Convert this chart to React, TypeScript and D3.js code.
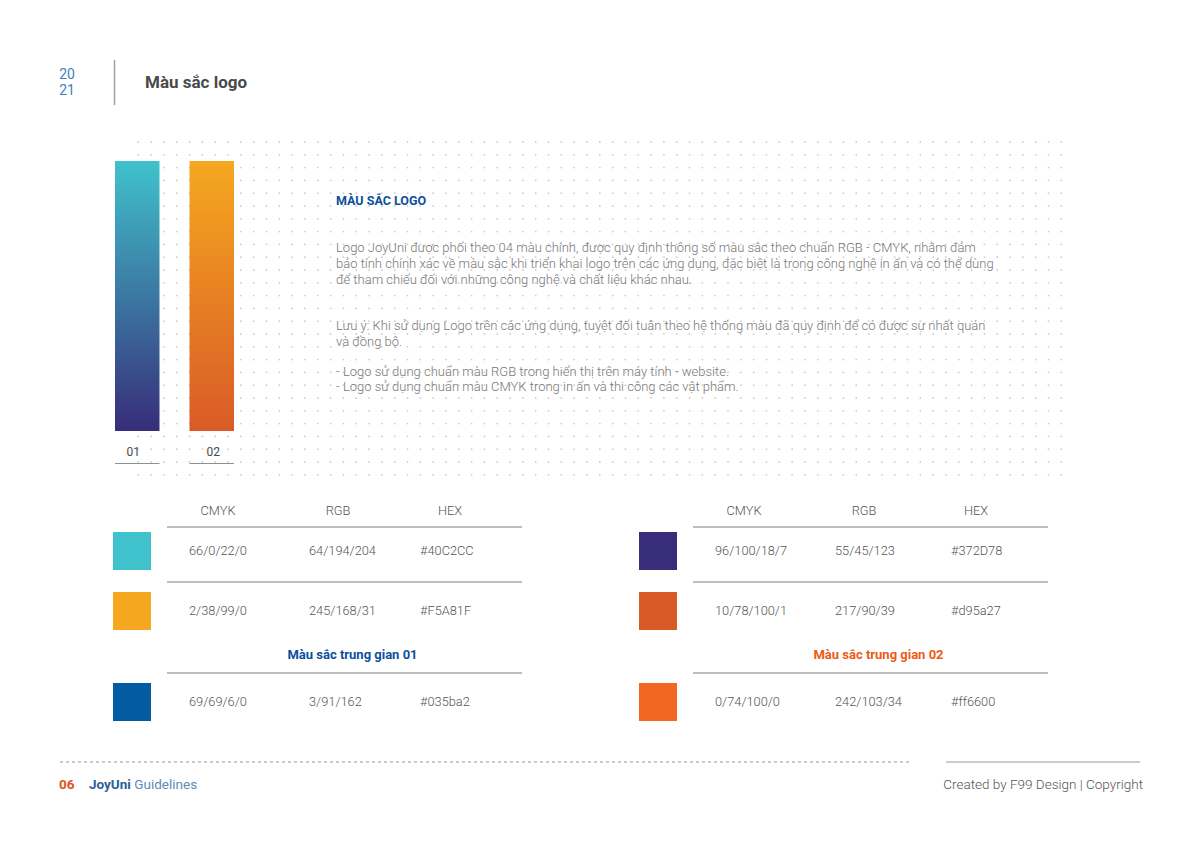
import React from "react";
import * as d3 from "d3";

const W = 1200;
const H = 849;

// ---- data ----
const barLabels = ["01", "02"];
const barTopColors = ["#40C2CC", "#F5A81F"];
const barBottomColors = ["#372D78", "#d95a27"];

const columnHeaders = ["CMYK", "RGB", "HEX"];

const leftCmyk = ["66/0/22/0", "2/38/99/0", "69/69/6/0"];
const leftRgb = ["64/194/204", "245/168/31", "3/91/162"];
const leftHex = ["#40C2CC", "#F5A81F", "#035ba2"];
const leftSwatch = ["#40C2CC", "#F5A81F", "#035ba2"];
const leftSubtitle = "Màu sắc trung gian 01";

const rightCmyk = ["96/100/18/7", "10/78/100/1", "0/74/100/0"];
const rightRgb = ["55/45/123", "217/90/39", "242/103/34"];
const rightHex = ["#372D78", "#d95a27", "#ff6600"];
const rightSwatch = ["#372D78", "#d95a27", "#f26722"];
const rightSubtitle = "Màu sắc trung gian 02";

const paragraphLines = [
  "Logo JoyUni được phối theo 04 màu chính, được quy định thông số màu sắc theo chuẩn RGB - CMYK, nhằm đảm",
  "bảo tính chính xác về màu sắc khi triển khai logo trên các ứng dụng, đặc biệt là trong công nghệ in ấn và có thể dùng",
  "để tham chiếu đối với những công nghệ và chất liệu khác nhau.",
];
const noteLines = [
  "Lưu ý: Khi sử dụng Logo trên các ứng dụng, tuyệt đối tuân theo hệ thống màu đã quy định để có được sự nhất quán",
  "và đồng bộ.",
];
const bulletLines = [
  "- Logo sử dụng chuẩn màu RGB trong hiển thị trên máy tính - website.",
  "- Logo sử dụng chuẩn màu CMYK trong in ấn và thi công các vật phẩm.",
];

const FONT = "Roboto, 'Noto Sans', sans-serif";

function Table({ x0, cmyk, rgb, hex, swatch, subtitle, subColor, hexShift }: any) {
  const col = d3.scalePoint<string>().domain(columnHeaders).range([x0 + 105, x0 + 337]);
  const headerX = (h: string) => (col(h) as number) + (h === "RGB" ? 4 : 0);
  const valueX: Record<string, number> = {
    CMYK: x0 + 76,
    RGB: x0 + 196,
    HEX: x0 + 307 + hexShift,
  };
  const rowY = d3.scaleOrdinal<number, number>().domain([0, 1, 2]).range([551, 611, 702]);
  const lineStart = x0 + 54;
  const lineEnd = x0 + 409;
  const cols = [cmyk, rgb, hex];
  return (
    <g fontFamily={FONT}>
      {columnHeaders.map((h) => (
        <text key={h} x={headerX(h)} y={511} dy="0.35em" textAnchor="middle" fontSize={12.8} fontWeight={300} fill="#555">
          {h}
        </text>
      ))}
      {[527, 582, 673].map((y) => (
        <line key={y} x1={lineStart} x2={lineEnd} y1={y} y2={y} stroke="#a8a8a8" strokeWidth={1.3} />
      ))}
      {[0, 1, 2].map((i) => (
        <g key={i}>
          <rect x={x0} y={rowY(i) - 19} width={38} height={38} fill={swatch[i]} />
          {columnHeaders.map((h, c) => (
            <text key={h} x={valueX[h]} y={rowY(i)} dy="0.35em" fontSize={12.8} fontWeight={300} fill="#555">
              {cols[c][i]}
            </text>
          ))}
        </g>
      ))}
      <text x={(lineStart + lineEnd) / 2 + 8} y={654} dy="0.35em" textAnchor="middle" fontSize={13} fontWeight={700} fill={subColor}>
        {subtitle}
      </text>
    </g>
  );
}

export default function App() {
  const gx = d3.range(73).map((i) => 138.3 + i * 12.82);
  const gy = d3.range(27).map((j) => 142 + j * 12.8);
  const barX = d3.scaleOrdinal<string, number>().domain(barLabels).range([115, 189.5]);
  const barW = 44.5;
  const labelShift = [-4, 1.5];

  return (
    <svg width={W} height={H} style={{ position: "absolute", left: 0, top: 0, background: "#fff" }}>
      <defs>
        {barLabels.map((l, i) => (
          <linearGradient key={l} id={`grad${i}`} x1="0" y1="0" x2="0" y2="1">
            <stop offset="0" stopColor={barTopColors[i]} />
            <stop offset="1" stopColor={barBottomColors[i]} />
          </linearGradient>
        ))}
      </defs>
      <rect x={0} y={0} width={W} height={H} fill="#fff" />

      {/* header */}
      <g fontFamily={FONT}>
        <text x={67} y={74} dy="0.35em" textAnchor="middle" fontSize={14} fill="#3f7fb8">20</text>
        <text x={67} y={90} dy="0.35em" textAnchor="middle" fontSize={14} fill="#3f7fb8">21</text>
        <line x1={114.5} x2={114.5} y1={60} y2={105} stroke="#a0a0a0" strokeWidth={1.5} />
        <text x={145} y={82} dy="0.35em" fontSize={17} fontWeight={700} fill="#4a4a4a">Màu sắc logo</text>
      </g>

      {/* dot grid */}
      <g fill="#cdcdcd">
        {gy.map((y) => gx.map((x) => <circle key={`${x}-${y}`} cx={x} cy={y} r={0.9} />))}
      </g>

      {/* bars */}
      {barLabels.map((l, i) => (
        <g key={l} fontFamily={FONT}>
          <rect x={barX(l)} y={161} width={barW} height={270} fill={`url(#grad${i})`} />
          <text x={(barX(l) as number) + barW / 2 + labelShift[i]} y={452} dy="0.35em" textAnchor="middle" fontSize={12} fill="#4a4a4a">
            {l}
          </text>
          <line x1={barX(l)} x2={(barX(l) as number) + barW} y1={463.5} y2={463.5} stroke="#909090" strokeWidth={1.2} />
        </g>
      ))}

      {/* text block */}
      <g fontFamily={FONT} fontSize={13} fill="#777" fontWeight={300}>
        <text x={336} y={201} dy="0.35em" fontSize={12.5} fontWeight={700} fill="#0d4f9c">MÀU SẮC LOGO</text>
        {paragraphLines.map((t, i) => (
          <text key={t} x={336} y={247 + i * 16} dy="0.35em">{t}</text>
        ))}
        {noteLines.map((t, i) => (
          <text key={t} x={336} y={325 + i * 16} dy="0.35em">{t}</text>
        ))}
        {bulletLines.map((t, i) => (
          <text key={t} x={336} y={371 + i * 15.5} dy="0.35em">{t}</text>
        ))}
      </g>

      <Table x0={113} cmyk={leftCmyk} rgb={leftRgb} hex={leftHex} swatch={leftSwatch} subtitle={leftSubtitle} subColor="#0d4f9c" hexShift={0} />
      <Table x0={639} cmyk={rightCmyk} rgb={rightRgb} hex={rightHex} swatch={rightSwatch} subtitle={rightSubtitle} subColor="#ee5a14" hexShift={5} />

      {/* footer */}
      <line x1={60} x2={911} y1={762} y2={762} stroke="#9a9a9a" strokeWidth={1} strokeDasharray="3 3" />
      <line x1={946} x2={1140} y1={762} y2={762} stroke="#9a9a9a" strokeWidth={1.2} />
      <g fontFamily={FONT} fontSize={13.5}>
        <text x={59} y={784} dy="0.35em" fontWeight={700} fill="#e0531d">06</text>
        <text x={89} y={784} dy="0.35em">
          <tspan fontWeight={700} fill="#2d6199">JoyUni</tspan>
          <tspan fill="#5f8ab5"> Guidelines</tspan>
        </text>
        <text x={1143} y={784} dy="0.35em" textAnchor="end" fontWeight={300} fill="#555">Created by F99 Design | Copyright</text>
      </g>
    </svg>
  );
}
